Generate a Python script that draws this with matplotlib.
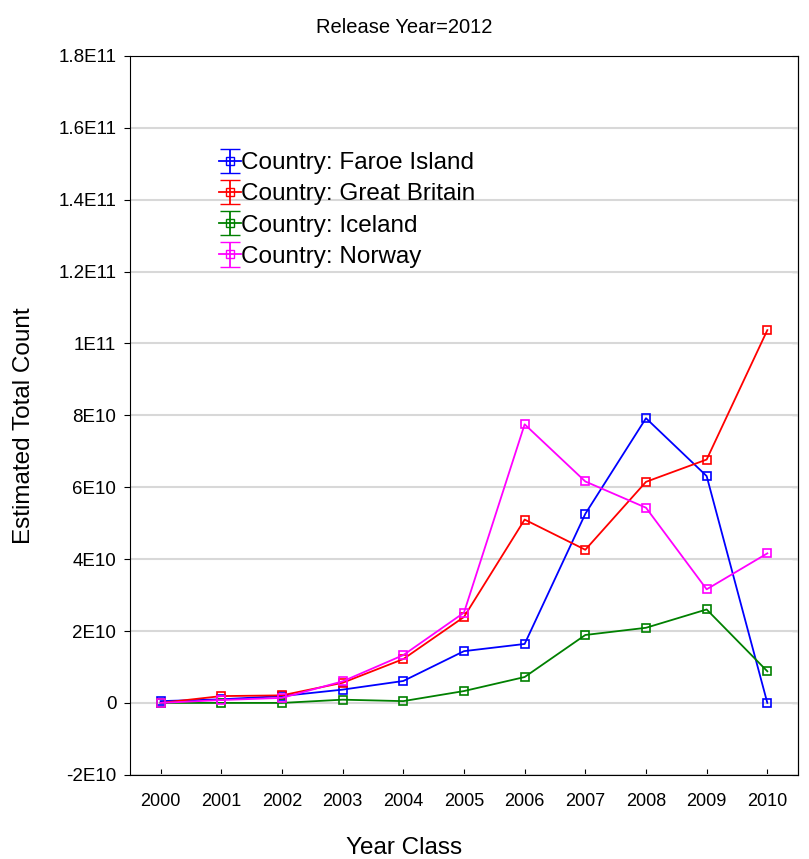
import numpy as np
import matplotlib
matplotlib.use("Agg")
import matplotlib.pyplot as plt

plt.rcParams["font.family"] = ["Liberation Sans", "DejaVu Sans"]

years = [2000, 2001, 2002, 2003, 2004, 2005, 2006, 2007, 2008, 2009, 2010]

# values in units of 1E10
faroe = [0.05, 0.10, 0.19, 0.37, 0.61, 1.44, 1.64, 5.26, 7.92, 6.31, 0.0]
britain = [0.0, 0.19, 0.21, 0.56, 1.22, 2.39, 5.10, 4.26, 6.15, 6.77, 10.37]
iceland = [0.0, 0.0, 0.0, 0.09, 0.05, 0.33, 0.72, 1.89, 2.09, 2.60, 0.88]
norway = [0.0, 0.08, 0.14, 0.60, 1.33, 2.51, 7.75, 6.16, 5.43, 3.16, 4.16]

series = [
    ("Country: Faroe Island", faroe, "#0000ff"),
    ("Country: Great Britain", britain, "#ff0000"),
    ("Country: Iceland", iceland, "#008000"),
    ("Country: Norway", norway, "#ff00ff"),
]

yticks = [-2e10, 0, 2e10, 4e10, 6e10, 8e10, 1e11, 1.2e11, 1.4e11, 1.6e11, 1.8e11]
ytick_labels = ["-2E10", "0", "2E10", "4E10", "6E10", "8E10", "1E11",
                "1.2E11", "1.4E11", "1.6E11", "1.8E11"]

fig = plt.figure(figsize=(8.09, 8.59), dpi=100)
ax = fig.add_axes([0.161, 0.098, 0.825, 0.837])

handles = []
for label, vals, color in series:
    y = np.array(vals) * 1e10
    ax.plot(years, y, color=color, lw=1.3, marker="s", markersize=6,
            markerfacecolor="none", markeredgecolor=color, markeredgewidth=1.2,
            zorder=3)
    # proxy artist so the legend shows the error-bar symbol
    h = ax.errorbar([np.nan], [np.nan], yerr=[1], color=color, lw=1.3,
                    marker="s", markersize=6, markerfacecolor="none",
                    capsize=7, elinewidth=1.3, label=label)
    handles.append(h)

ax.set_xlim(1999.5, 2010.5)
ax.set_ylim(-2e10, 1.8e11)
ax.set_xticks(years)
ax.set_yticks(yticks)
ax.set_yticklabels(ytick_labels)
ax.yaxis.grid(True, color="#d8d8d8", lw=1.5, zorder=0)
ax.set_axisbelow(True)

ax.tick_params(axis="x", direction="in", length=4, labelsize=13, pad=13)
ax.tick_params(axis="y", direction="out", length=4, labelsize=13.5, pad=6,
               right=False)

# right-side ticks pointing inward
ax2 = ax.secondary_yaxis("right")
ax2.set_yticks(yticks)
ax2.tick_params(direction="in", length=4, labelright=False)

fig.text(0.5, 0.968, "Release Year=2012", ha="center", va="center", fontsize=14.5)
fig.text(0.5, 0.0128, "Year Class", ha="center", va="center", fontsize=17.5)
fig.text(0.03, 0.505, "Estimated Total Count", ha="center", va="center",
         rotation=90, fontsize=17.5)

leg = ax.legend(handles=handles, loc="upper left", bbox_to_anchor=(0.133, 0.866),
                frameon=False, fontsize=17.5, handlelength=0.9, handletextpad=0.0,
                labelspacing=0.38, borderaxespad=0, borderpad=0)

fig.savefig("out.png", dpi=100)
